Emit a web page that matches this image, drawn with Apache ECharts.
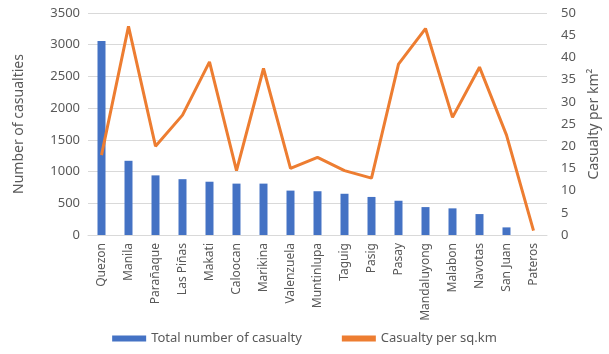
<!DOCTYPE html>
<html>
<head>
<meta charset="utf-8">
<script src="https://cdn.jsdelivr.net/npm/echarts@6/dist/echarts.min.js"></script>
<style>
  html, body { margin: 0; padding: 0; background: #fff; }
  #chart { width: 609px; height: 354px; }
</style>
</head>
<body>
<div id="chart"></div>
<script>
  const cities = ['Quezon', 'Manila', 'Parañaque', 'Las Piñas', 'Makati', 'Caloocan', 'Marikina', 'Valenzuela',
    'Muntinlupa', 'Taguig', 'Pasig', 'Pasay', 'Mandaluyong', 'Malabon', 'Navotas', 'San Juan', 'Pateros']
  const totalCasualty = [3060, 1170, 940, 880, 840, 810, 810, 700, 690, 650, 600, 540, 440, 420, 330, 120, 0]
  const perSqKm = [18, 47, 20, 27, 39, 14.5, 37.5, 15, 17.5, 14.5, 12.8, 38.5, 46.5, 26.5, 37.8, 22.5, 1]

  const font = 'Noto Sans'
  const grey = '#595959'

  let myChart = echarts.init(document.getElementById('chart'))
  myChart.setOption({
    animation: false,
    textStyle: { fontFamily: font },
    legend: {
      bottom: 4,
      left: 'center',
      itemGap: 40,
      itemWidth: 34,
      itemHeight: 6,
      textStyle: { color: grey, fontSize: 13, fontFamily: font },
      data: [
        { name: 'Total number of casualty', icon: 'rect' },
        { name: 'Casualty per sq.km', icon: 'rect' }
      ]
    },
    grid: { left: 88, right: 60, top: 13, bottom: 119 },
    xAxis: {
      type: 'category',
      data: cities,
      axisTick: { show: false },
      axisLine: { lineStyle: { color: '#d9d9d9' } },
      axisLabel: { rotate: 90, color: grey, fontSize: 12, interval: 0, margin: 8 }
    },
    yAxis: [
      {
        type: 'value',
        min: 0,
        max: 3500,
        interval: 500,
        name: 'Number of casualties',
        nameLocation: 'middle',
        nameGap: 62,
        nameTextStyle: { color: grey, fontSize: 14 },
        axisLabel: { color: grey, fontSize: 13, formatter: v => String(v) },
        splitLine: { lineStyle: { color: '#d9d9d9' } }
      },
      {
        type: 'value',
        min: 0,
        max: 50,
        interval: 5,
        name: 'Casualty per km²',
        nameLocation: 'middle',
        nameGap: 40,
        nameRotate: 90,
        nameTextStyle: { color: grey, fontSize: 14 },
        axisLabel: { color: grey, fontSize: 13, margin: 14 },
        splitLine: { show: false }
      }
    ],
    series: [
      {
        name: 'Total number of casualty',
        type: 'bar',
        barWidth: 8,
        itemStyle: { color: '#4472C4' },
        data: totalCasualty
      },
      {
        name: 'Casualty per sq.km',
        type: 'line',
        yAxisIndex: 1,
        symbol: 'none',
        lineStyle: { color: '#ED7D31', width: 3 },
        itemStyle: { color: '#ED7D31' },
        data: perSqKm
      }
    ]
  })
</script>
</body>
</html>
